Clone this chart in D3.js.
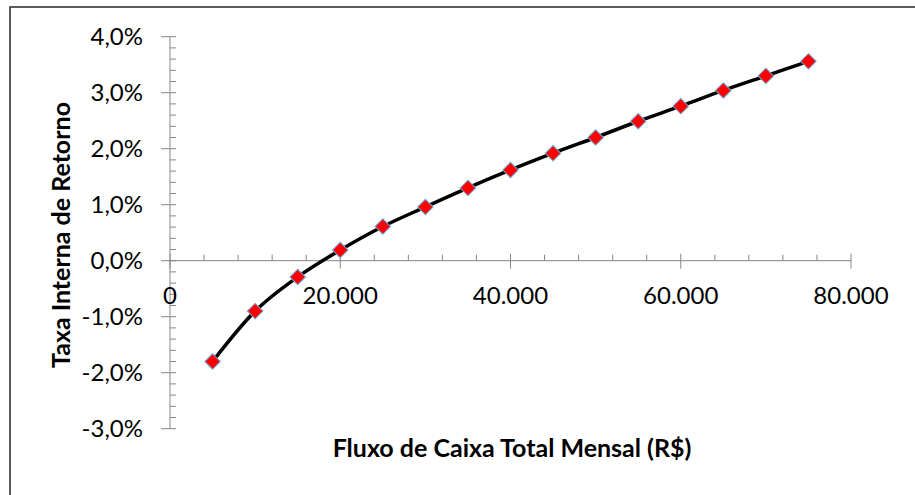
<!DOCTYPE html>
<html>
<head>
<meta charset="utf-8">
<script src="https://cdn.jsdelivr.net/npm/d3@7"></script>
<style>
  html, body { margin: 0; padding: 0; background: #fff; }
  svg { display: block; font-family: Lato, "Open Sans", sans-serif; }
</style>
</head>
<body>
<div id="my_chart"></div>
<script>
// data
var fluxo = [5000, 10000, 15000, 20000, 25000, 30000, 35000, 40000, 45000, 50000, 55000, 60000, 65000, 70000, 75000];
var tir = [-1.80, -0.90, -0.29, 0.19, 0.61, 0.96, 1.30, 1.62, 1.92, 2.20, 2.49, 2.76, 3.04, 3.30, 3.56];
var xTicks = [0, 20000, 40000, 60000, 80000];
var yTicks = [-3, -2, -1, 0, 1, 2, 3, 4];
var xTitle = "Fluxo de Caixa Total Mensal (R$)";
var yTitle = "Taxa Interna de Retorno";

var W = 915, H = 495;
var axisColor = "#868686";

var pt = d3.formatLocale({decimal: ",", thousands: ".", grouping: [3], currency: ["R$", ""], minus: "-"});
var fmtX = function(d) { return d == 0 ? "0" : pt.format(",.0f")(d); };
var fmtY = function(d) { return pt.format(".1f")(d) + "%"; };

var valeur = fluxo.map(function(f, i) { return {x: f, y: tir[i]}; });

var svg = d3.select("#my_chart")
  .append("svg")
    .attr("width", W)
    .attr("height", H);

// chart border
svg.append("rect")
  .attr("x", 10).attr("y", 7)
  .attr("width", 1000).attr("height", 1000)
  .attr("fill", "none")
  .attr("stroke", "#333")
  .attr("stroke-width", 1.6);

var x = d3.scaleLinear().domain([0, 80000]).range([170, 851]);
var y = d3.scaleLinear().domain([-3, 4]).range([428.7, 36.7]);

// Y axis (crosses at x = 0)
var yMinor = d3.range(-3, 4.0001, 0.2).filter(function(v) { return Math.abs(v - Math.round(v)) > 1e-6; });
var gy = svg.append("g").attr("transform", "translate(" + x(0) + ",0)");
gy.append("line").attr("y1", y(-3)).attr("y2", y(4)).attr("stroke", axisColor);
gy.selectAll(".minor").data(yMinor).enter().append("line")
  .attr("x1", 0).attr("x2", 6)
  .attr("y1", function(d) { return y(d); }).attr("y2", function(d) { return y(d); })
  .attr("stroke", axisColor);
gy.selectAll(".major").data(yTicks).enter().append("line")
  .attr("x1", -9).attr("x2", 6)
  .attr("y1", function(d) { return y(d); }).attr("y2", function(d) { return y(d); })
  .attr("stroke", axisColor);
gy.selectAll("text").data(yTicks).enter().append("text")
  .attr("x", -27)
  .attr("y", function(d) { return y(d); })
  .attr("dy", "0.36em")
  .attr("text-anchor", "end")
  .style("font-size", "24px")
  .attr("fill", "#000")
  .text(fmtY);

// X axis (crosses at y = 0)
var xMinor = d3.range(0, 80001, 4000).filter(function(v) { return v % 20000 != 0; });
var gx = svg.append("g").attr("transform", "translate(0," + y(0) + ")");
gx.append("line").attr("x1", x(0)).attr("x2", x(80000)).attr("stroke", axisColor);
gx.selectAll(".minor").data(xMinor).enter().append("line")
  .attr("x1", function(d) { return x(d); }).attr("x2", function(d) { return x(d); })
  .attr("y1", -6).attr("y2", 0)
  .attr("stroke", axisColor);
gx.selectAll(".major").data(xTicks).enter().append("line")
  .attr("x1", function(d) { return x(d); }).attr("x2", function(d) { return x(d); })
  .attr("y1", -7).attr("y2", 8)
  .attr("stroke", axisColor);
gx.selectAll("text").data(xTicks).enter().append("text")
  .attr("x", function(d) { return x(d); })
  .attr("y", 35)
  .attr("dy", "0.36em")
  .attr("text-anchor", "middle")
  .style("font-size", "24px")
  .attr("fill", "#000")
  .text(fmtX);

// titles
svg.append("text")
  .attr("x", 512).attr("y", 457)
  .attr("text-anchor", "middle")
  .style("font-size", "25px").style("font-weight", "bold")
  .text(xTitle);
svg.append("text")
  .attr("transform", "translate(70,235) rotate(-90)")
  .attr("text-anchor", "middle")
  .style("font-size", "25px").style("font-weight", "bold")
  .text(yTitle);

// smoothed line
var line = d3.line()
  .x(function(d) { return x(d.x); })
  .y(function(d) { return y(d.y); })
  .curve(d3.curveCatmullRom.alpha(0));
svg.append("path")
  .datum(valeur)
  .attr("d", line)
  .attr("fill", "none")
  .attr("stroke", "#000")
  .attr("stroke-width", 3.5);

// diamond markers
var diamond = d3.symbol().type(d3.symbolSquare).size(120);
svg.selectAll(".pt").data(valeur).enter().append("path")
  .attr("d", diamond)
  .attr("transform", function(d) { return "translate(" + x(d.x) + "," + y(d.y) + ") rotate(45)"; })
  .attr("fill", "#ff0000")
  .attr("stroke", "#6fa8dc")
  .attr("stroke-width", 1);
</script>
</body>
</html>
